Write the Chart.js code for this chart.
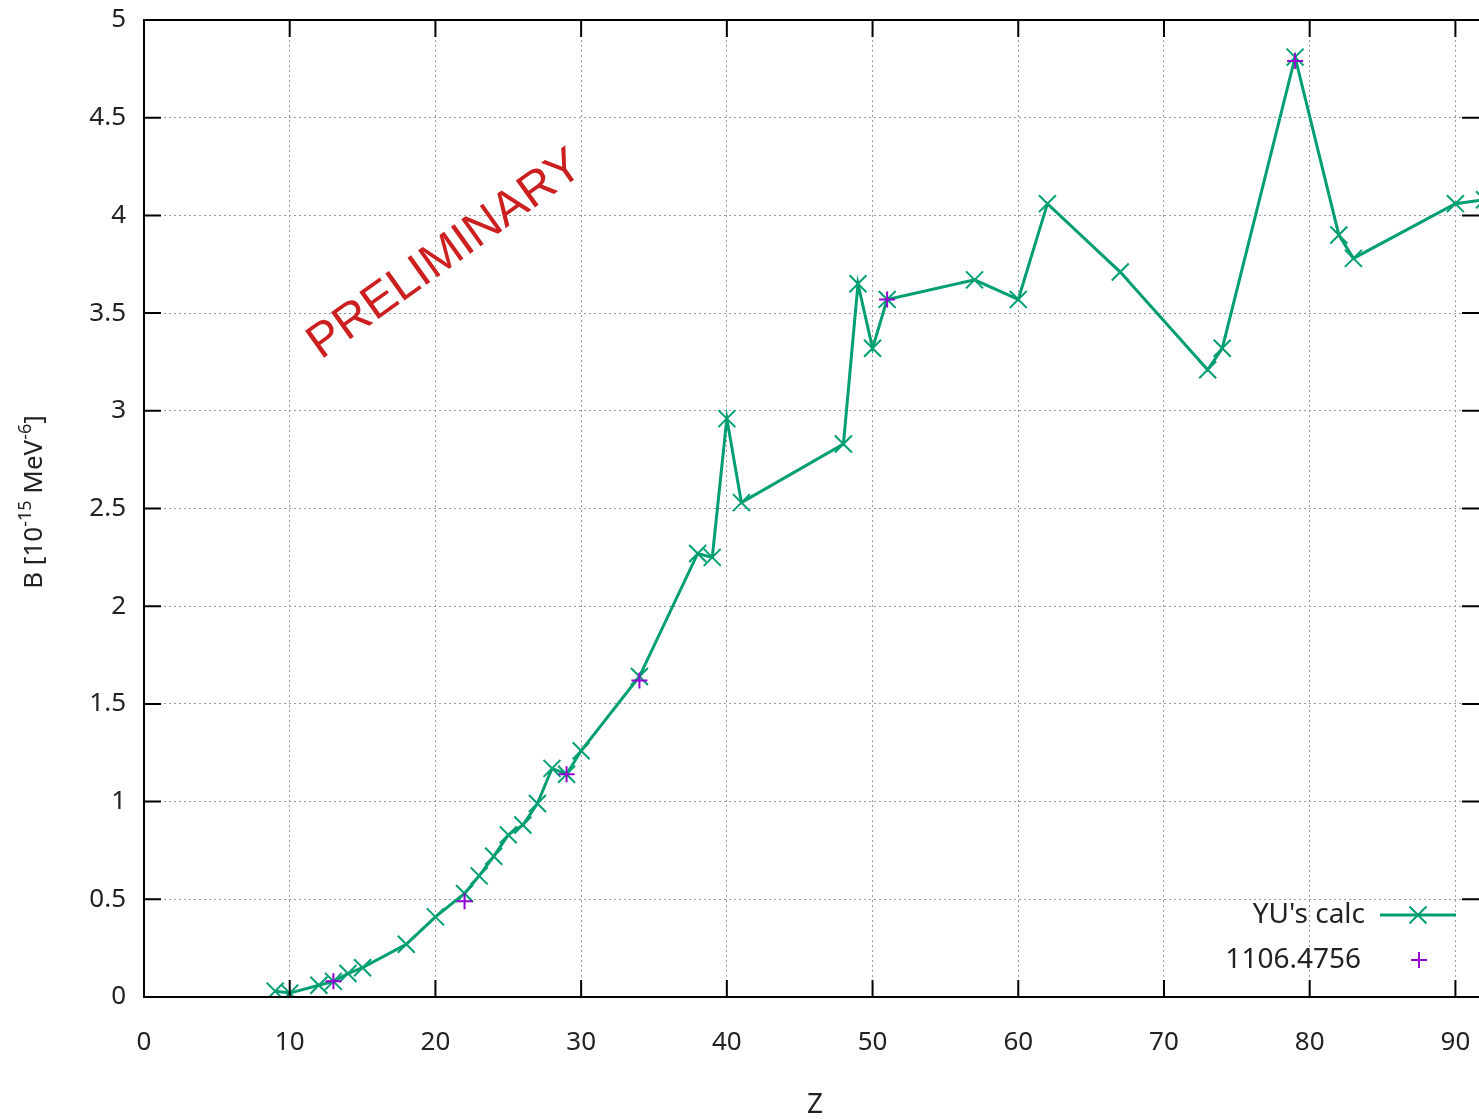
<!DOCTYPE html>
<html>
<head>
<meta charset="utf-8">
<script src="https://cdn.jsdelivr.net/npm/chart.js@4.4.0/dist/chart.umd.min.js"></script>
<style>
  html, body { margin: 0; padding: 0; background: #fff; overflow: hidden; }
  #wrap { width: 1479px; height: 1119px; overflow: hidden; }
</style>
</head>
<body>
<div id="wrap"><canvas id="chart" width="1479" height="1119"></canvas></div>
<script>
// YU's calc (line + x markers)
const zCalc = [9, 10, 12, 13, 14, 15, 18, 20, 22, 23, 24, 25, 26, 27, 28, 29, 30, 34, 38, 39,
  40, 41, 48, 49, 50, 51, 57, 60, 62, 67, 73, 74, 79, 82, 83, 90, 92];
const bCalc = [0.03, 0.02, 0.06, 0.08, 0.12, 0.15, 0.27, 0.41, 0.53, 0.62, 0.72, 0.83, 0.88, 0.99, 1.17, 1.14, 1.26, 1.64, 2.27, 2.25,
  2.96, 2.53, 2.83, 3.65, 3.32, 3.57, 3.67, 3.57, 4.06, 3.71, 3.21, 3.32, 4.81, 3.90, 3.78, 4.06, 4.08];
// 1106.4756 (+ markers)
const zRef = [13, 22, 29, 34, 51, 79];
const bRef = [0.08, 0.49, 1.14, 1.62, 3.57, 4.79];

const xTicks = [0, 10, 20, 30, 40, 50, 60, 70, 80, 90];
const yTicks = [0, 0.5, 1, 1.5, 2, 2.5, 3, 3.5, 4, 4.5, 5];
const yTickLabels = ['0', '0.5', '1', '1.5', '2', '2.5', '3', '3.5', '4', '4.5', '5'];

const green = '#009e73';
const purple = '#9400d3';
const textColor = '#222222';
const FONT = '"Noto Sans", "DejaVu Sans", sans-serif';
const VIEW_W = 1479;

const framePlugin = {
  id: 'frame',
  afterDatasetsDraw(chart) {
    const { ctx, chartArea: a, scales: { x, y } } = chart;
    const tick = 17;
    ctx.save();
    ctx.strokeStyle = '#000';
    ctx.lineWidth = 2;
    // border: left, bottom, top
    ctx.beginPath();
    ctx.moveTo(a.right + 2, a.top);
    ctx.lineTo(a.left, a.top);
    ctx.lineTo(a.left, a.bottom);
    ctx.lineTo(a.right + 2, a.bottom);
    ctx.stroke();
    // inward tick marks
    ctx.beginPath();
    xTicks.forEach(v => {
      const px = x.getPixelForValue(v);
      ctx.moveTo(px, a.bottom); ctx.lineTo(px, a.bottom - tick);
      ctx.moveTo(px, a.top); ctx.lineTo(px, a.top + tick);
    });
    yTicks.forEach(v => {
      const py = y.getPixelForValue(v);
      ctx.moveTo(a.left, py); ctx.lineTo(a.left + tick, py);
      ctx.moveTo(a.right, py); ctx.lineTo(a.right - tick, py);
    });
    ctx.stroke();

    // legend
    ctx.font = '28px ' + FONT;
    ctx.fillStyle = textColor;
    ctx.textAlign = 'right';
    ctx.textBaseline = 'middle';
    const ds = chart.data.datasets;
    ctx.fillText(ds[0].label, 1365, 915);
    ctx.fillText(ds[1].label, 1361, 960);
    ctx.strokeStyle = green;
    ctx.lineWidth = 3;
    ctx.beginPath();
    ctx.moveTo(1380, 915); ctx.lineTo(1456, 915);
    ctx.stroke();
    ctx.lineWidth = 2;
    Chart.helpers.drawPoint(ctx, { pointStyle: 'crossRot', radius: 12, borderWidth: 2 }, 1418, 915);
    ctx.strokeStyle = purple;
    Chart.helpers.drawPoint(ctx, { pointStyle: 'cross', radius: 8, borderWidth: 2 }, 1419, 960);

    // watermark
    ctx.save();
    ctx.translate(321, 360);
    ctx.rotate(-35.5 * Math.PI / 180);
    ctx.font = '48px "Liberation Sans", Arial, sans-serif';
    ctx.fillStyle = '#cc2020';
    ctx.textAlign = 'left';
    ctx.textBaseline = 'alphabetic';
    ctx.fillText('PRELIMINARY', 0, 0);
    ctx.restore();

    // axis titles
    ctx.font = '28px ' + FONT;
    ctx.fillStyle = textColor;
    ctx.textAlign = 'center';
    ctx.textBaseline = 'middle';
    ctx.fillText('Z', 815, 1105);

    ctx.save();
    ctx.translate(42, 502);
    ctx.rotate(-Math.PI / 2);
    ctx.textAlign = 'left';
    ctx.textBaseline = 'alphabetic';
    const parts = [['B [10', 26, 0], ['-15', 18, -11], [' MeV', 26, 0], ['-6', 18, -11], [']', 26, 0]];
    let total = 0;
    parts.forEach(p => { ctx.font = p[1] + 'px ' + FONT; total += ctx.measureText(p[0]).width; });
    let cx = -total / 2;
    parts.forEach(p => {
      ctx.font = p[1] + 'px ' + FONT;
      ctx.fillText(p[0], cx, p[2]);
      cx += ctx.measureText(p[0]).width;
    });
    ctx.restore();
    ctx.restore();
  }
};

function buildChart(canvas) {
  return new Chart(canvas, {
    type: 'scatter',
    data: {
      datasets: [{
        label: "YU's calc",
        data: zCalc.map((z, i) => ({ x: z, y: bCalc[i] })),
        showLine: true,
        borderColor: green,
        backgroundColor: green,
        borderWidth: 3,
        pointStyle: 'crossRot',
        pointRadius: 12,
        pointBorderWidth: 2,
        pointBorderColor: green,
        order: 2
      }, {
        label: '1106.4756',
        data: zRef.map((z, i) => ({ x: z, y: bRef[i] })),
        showLine: false,
        borderColor: purple,
        backgroundColor: purple,
        pointStyle: 'cross',
        pointRadius: 8,
        pointBorderWidth: 2,
        order: 1
      }]
    },
    options: {
      responsive: false,
      animation: false,
      events: [],
      layout: { padding: { top: 20, right: 0, left: 0, bottom: 0 } },
      plugins: {
        legend: { display: false },
        tooltip: { enabled: false }
      },
      scales: {
        x: {
          type: 'linear',
          min: 0,
          max: 91.62,
          afterBuildTicks: s => { s.ticks = xTicks.map(v => ({ value: v })); },
          afterFit: s => { s.height = 122; s.paddingLeft = 0; s.paddingRight = 0; },
          grid: { color: '#9a9a9a', lineWidth: 1, drawTicks: false },
          border: { display: false, dash: [2, 3] },
          ticks: {
            padding: 30,
            color: textColor,
            font: { family: FONT, size: 26 },
            maxRotation: 0,
            autoSkip: false,
            callback: v => String(v)
          }
        },
        y: {
          type: 'linear',
          min: 0,
          max: 5,
          afterBuildTicks: s => { s.ticks = yTicks.map(v => ({ value: v })); },
          afterFit: s => { s.width = 144; s.paddingTop = 0; s.paddingBottom = 0; },
          grid: { color: '#9a9a9a', lineWidth: 1, drawTicks: false },
          border: { display: false, dash: [2, 3] },
          ticks: {
            padding: 18,
            color: textColor,
            font: { family: FONT, size: 26 },
            autoSkip: false,
            callback: v => yTickLabels[yTicks.indexOf(v)] ?? String(v)
          }
        }
      }
    },
    plugins: [framePlugin]
  });
}

const canvas = document.getElementById('chart');
let chart = buildChart(canvas);
// the plot is cut at the right edge of the picture: widen the canvas so the plot area reaches it
const extra = Math.round(VIEW_W - chart.chartArea.right);
if (extra > 0) {
  chart.destroy();
  canvas.width = VIEW_W + extra;
  canvas.height = 1119;
  canvas.style.width = (VIEW_W + extra) + 'px';
  canvas.style.height = '1119px';
  chart = buildChart(canvas);
}
</script>
</body>
</html>
